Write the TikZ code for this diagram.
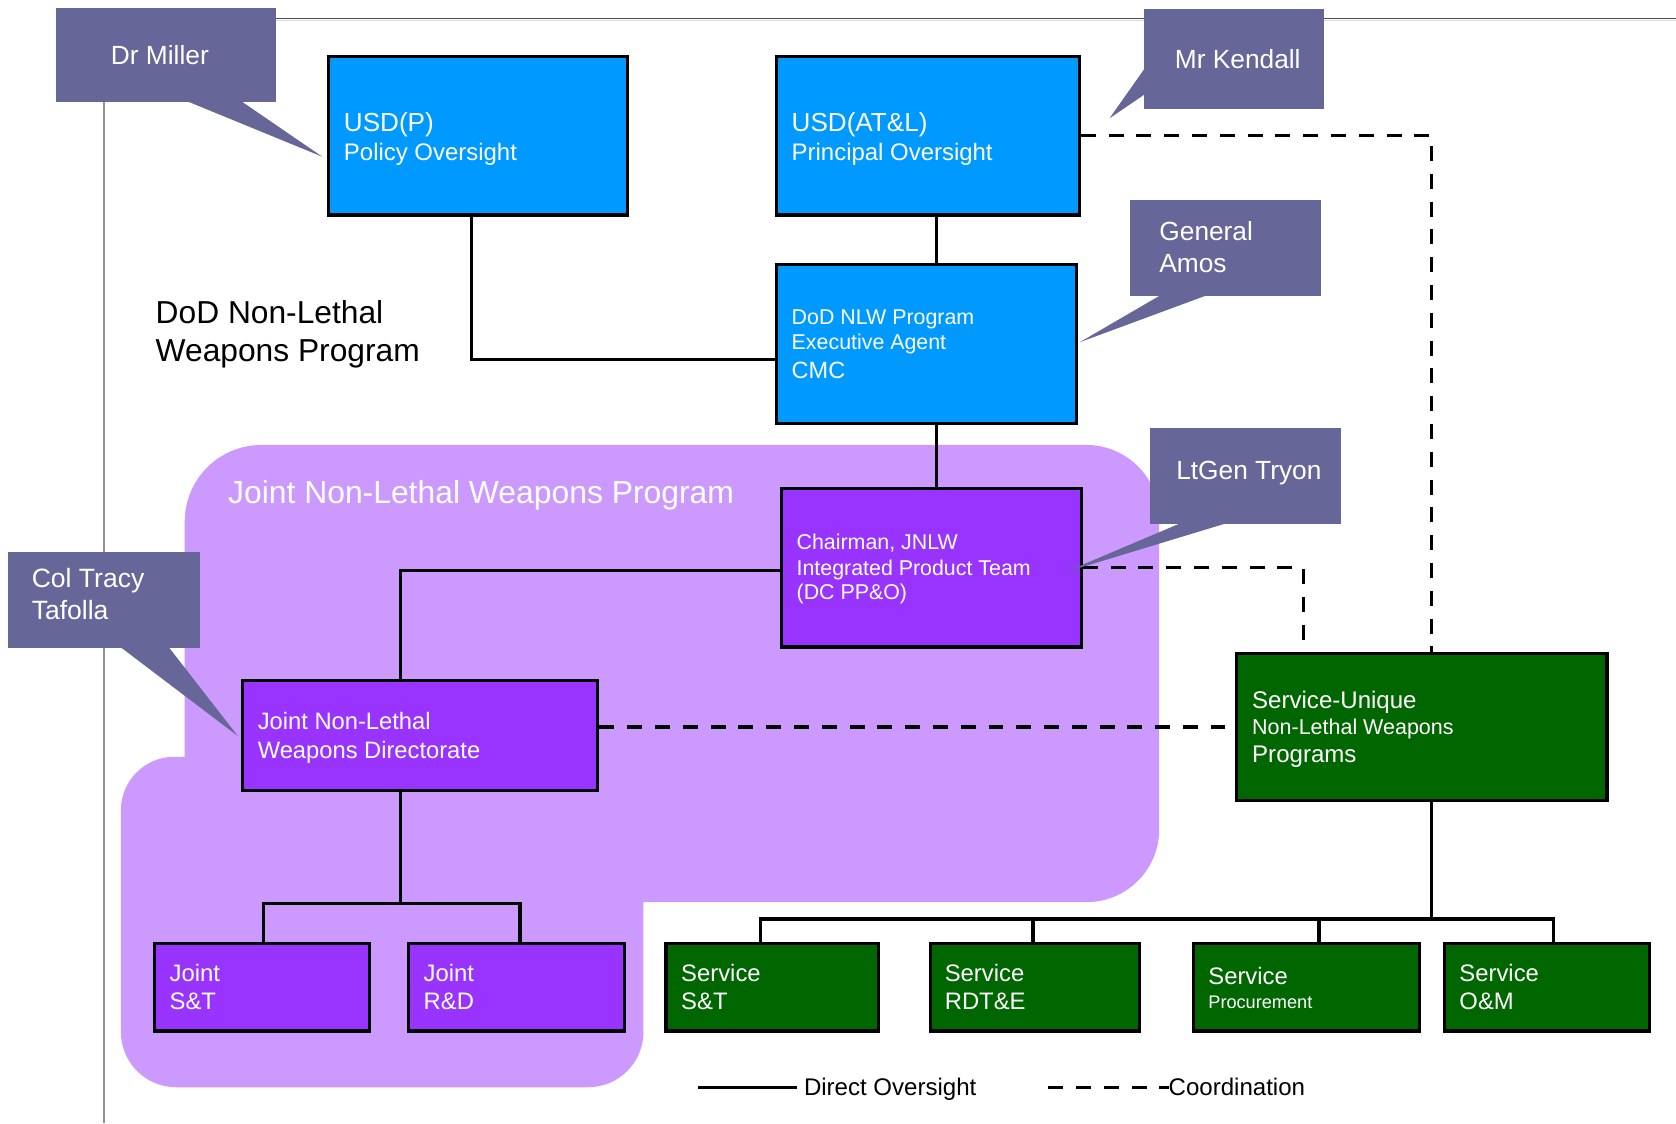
\documentclass[tikz,border=0pt]{standalone}
\usepackage{fontspec}
\setmainfont{Liberation Sans}
\definecolor{callc}{HTML}{666699}
\definecolor{bluebox}{HTML}{0099FF}
\definecolor{purpbox}{HTML}{9933FF}
\definecolor{regionc}{HTML}{CC99FF}
\definecolor{greenbox}{HTML}{006600}
\newcommand\fs[1]{\fontsize{#1}{#1}\selectfont}
\newcommand\mytxt[6][white]{\node[txt,text=#1,font=\fs{#5}] (#2) at (#3,#4) {#6};}
\begin{document}
\begin{tikzpicture}[x=1pt,y=-1pt,
  box/.style={draw=black, line width=3pt, inner sep=0pt, rectangle},
  bw/.style={minimum width=#1},
  bh/.style={minimum height=#1},
  call/.style={fill=callc, inner sep=0pt, rectangle},
  txt/.style={anchor=base west, inner sep=0pt},
  conn/.style={line width=3pt},
  coordline/.style={line width=3pt, dash pattern=on 14pt off 12pt},
]
\useasboundingbox (0,0) rectangle (1568,1051);
\fill[white] (0,0) rectangle (1568,1051);

% frame lines
\draw[gray!30, line width=1.2pt] (258,19) -- (1568,19);
\draw[gray!60!black, line width=1.3pt] (258,17.2) -- (1568,17.2);
\draw[gray!85, line width=1.5pt] (97.3,95) -- (97.3,1051);

% Joint program region
\fill[regionc] (172.8,708) -- (172.8,488.3)
  .. controls (172.8,448.3) and (204.8,416.3) .. (244.8,416.3)
  -- (1016.5,416.3)
  .. controls (1054,416.3) and (1084.5,446.8) .. (1084.5,484.3)
  -- (1084.5,776)
  .. controls (1084.5,813.5) and (1054,844) .. (1016.5,844)
  -- (602,844) -- (602,965.2)
  .. controls (602,994) and (579,1017.2) .. (550,1017.2)
  -- (165.1,1017.2)
  .. controls (136.1,1017.2) and (113.1,994) .. (113.1,965.2)
  -- (113.1,758)
  .. controls (113.1,730.4) and (135.5,708) .. (163.1,708)
  -- cycle;

% boxes
\node[box, fill=bluebox, bw=279.7, bh=148.2] (usdp) at (447.45,127.1) {};
\node[box, fill=bluebox, bw=283.5, bh=148.2] (usdatl) at (867.95,127.1) {};
\node[box, fill=bluebox, bw=281.1, bh=148.9] (nlw) at (866.75,321.65) {};
\node[box, fill=purpbox, bw=280.6, bh=148.5] (chair) at (871.2,531.05) {};
\node[box, fill=purpbox, bw=332.5, bh=103] (dir) at (393.05,688.2) {};
\node[box, fill=greenbox, bw=346.3, bh=138] (su) at (1330.25,680.1) {};
\node[box, fill=purpbox, bw=200.8, bh=82.1] (jst) at (245.1,923.55) {};
\node[box, fill=purpbox, bw=202.2, bh=82.1] (jrd) at (483.5,923.55) {};
\node[box, fill=greenbox, bw=198.5, bh=82.1] (sst) at (722.35,923.55) {};
\node[box, fill=greenbox, bw=195.4, bh=82.1] (srd) at (968,923.55) {};
\node[box, fill=greenbox, bw=211.6, bh=82.1] (spr) at (1222.1,923.55) {};
\node[box, fill=greenbox, bw=191.8, bh=82.1] (som) at (1447,923.55) {};

% direct oversight connectors
\draw[conn] ([xshift=-6pt]usdp.south) |- ([yshift=-14.5pt]nlw.west);
\draw[conn] ([xshift=8pt]usdatl.south) -- ([xshift=8pt]usdatl.south |- nlw.north);
\draw[conn] ([xshift=9.25pt]nlw.south) -- ([xshift=9.25pt]nlw.south |- chair.north);
\draw[conn] ([yshift=-3pt]chair.west) -| ([xshift=-18.3pt]dir.north);
\coordinate (jb) at (374.75,845.1);
\draw[conn] ([xshift=-18.3pt]dir.south) -- (jb);
\draw[conn] ([xshift=1.7pt]jst.north) |- (jb) -| ([xshift=2.9pt]jrd.north);
\coordinate (sb) at (1339.1,859.7);
\draw[conn] ([xshift=8.85pt]su.south) -- (sb);
\draw[conn] ([xshift=-11.15pt]sst.north) |- (sb) -| ([xshift=6.5pt]som.north);
\draw[conn] ([xshift=-1.6pt]srd.north) -- ([xshift=-1.6pt]srd.north |- sb);
\draw[conn] ([xshift=11.8pt]spr.north) -- ([xshift=11.8pt]spr.north |- sb);

% coordination connectors
\draw[coordline] (usdatl.east) -| ([xshift=9.35pt]su.north);
\draw[coordline] (chair.east) -| ([xshift=-110.65pt,yshift=11pt]su.north);
\draw[coordline] (dir.east |- su.west) -- ([xshift=-10pt]su.west);

% callouts
\node[call, minimum width=205.9, minimum height=87.3] (miller) at (155.15,51.45) {};
\fill[callc] (173.3,94) -- (224.7,94) -- (301.5,146.6) -- cycle;
\node[call, minimum width=168.9, minimum height=93.6] (kendall) at (1154.45,55.5) {};
\fill[callc] (1071,63.9) -- (1071,88.2) -- (1038,110.7) -- cycle;
\node[call, minimum width=178.7, minimum height=89.5] (amos) at (1146.45,231.85) {};
\fill[callc] (1086.9,275.5) -- (1131.1,275.5) -- (1010.1,320.2) -- cycle;
\node[call, minimum width=178.8, minimum height=89.2] (tryon) at (1165.2,445.3) {};
\fill[callc] (1106.1,488.8) -- (1149.7,488.8) -- (995.4,535.7) -- cycle;
\node[call, minimum width=179.5, minimum height=89.5] (tracy) at (97.35,561.45) {};
\fill[callc] (112.2,605) -- (157.5,605) -- (222.4,688.5) -- cycle;

% callout texts
\mytxt{tmiller}{103.6}{60}{24.6}{Dr Miller}
\mytxt{tkendall}{1099}{63.9}{24.6}{Mr Kendall}
\mytxt{tamos1}{1084.5}{225.2}{24.6}{General}
\mytxt{tamos2}{1084.5}{255.1}{24.6}{Amos}
\mytxt{ttryon}{1100.3}{449}{24.6}{LtGen Tryon}
\mytxt{ttracy1}{29.6}{549.8}{24.8}{Col Tracy}
\mytxt{ttracy2}{29.6}{579.4}{24.8}{Tafolla}

% box texts
\mytxt{tusdp1}{321.6}{123.2}{24.4}{USD(P)}
\mytxt{tusdp2}{321.6}{150.6}{22.4}{Policy Oversight}
\mytxt{tusdatl1}{740.5}{123.2}{24.4}{USD(AT\&L)}
\mytxt{tusdatl2}{740.5}{150.6}{22.4}{Principal Oversight}
\mytxt{tnlw1}{740.5}{304}{20}{DoD NLW Program}
\mytxt{tnlw2}{740.5}{327.4}{20}{Executive Agent}
\mytxt{tnlw3}{740.5}{353.9}{22}{CMC}
\mytxt{tchair1}{745.1}{513.9}{20}{Chairman, JNLW}
\mytxt{tchair2}{745.1}{538.2}{20}{Integrated Product Team}
\mytxt{tchair3}{745.1}{561.3}{20}{(DC PP\&O)}
\mytxt{tdir1}{241}{682.9}{22.2}{Joint Non-Lethal}
\mytxt{tdir2}{241}{709.4}{22.2}{Weapons Directorate}
\mytxt{tsu1}{1171.3}{662.6}{22.5}{Service-Unique}
\mytxt{tsu2}{1171.3}{687.6}{20.1}{Non-Lethal Weapons}
\mytxt{tsu3}{1171.3}{713.5}{22.5}{Programs}
\mytxt{tjst1}{158.5}{918.4}{22.3}{Joint}
\mytxt{tjst2}{158.5}{944.9}{22.3}{S\&T}
\mytxt{tjrd1}{396.2}{918.4}{22.3}{Joint}
\mytxt{tjrd2}{396.2}{944.9}{22.3}{R\&D}
\mytxt{tsst1}{637.1}{918.4}{22.3}{Service}
\mytxt{tsst2}{637.1}{944.9}{22.3}{S\&T}
\mytxt{tsrd1}{883.7}{918.4}{22.3}{Service}
\mytxt{tsrd2}{883.7}{944.9}{22.3}{RDT\&E}
\mytxt{tspr1}{1130.3}{921.5}{22.3}{Service}
\mytxt{tspr2}{1130.3}{943.3}{17}{Procurement}
\mytxt{tsom1}{1365.2}{918.4}{22.3}{Service}
\mytxt{tsom2}{1365.2}{944.9}{22.3}{O\&M}

% titles
\mytxt[black]{tdod1}{145.5}{303}{29.7}{DoD Non-Lethal}
\mytxt[black]{tdod2}{145.5}{338.4}{29.7}{Weapons Program}
\mytxt{tjnlwp}{213.3}{470.9}{29.8}{Joint Non-Lethal Weapons Program}

% legend
\coordinate (la) at (653.1,1017.2);
\coordinate (lb) at (745.2,1017.2);
\coordinate (lc) at (980.7,1017.2);
\coordinate (ld) at (1093.2,1017.2);
\draw[conn] (la) -- (lb);
\mytxt[black]{tdirect}{752}{1025.3}{22.5}{Direct Oversight}
\mytxt[black]{tcoord}{1093.2}{1025.3}{22.5}{Coordination}
\draw[coordline] (lc) -- (ld);
\end{tikzpicture}
\end{document}
